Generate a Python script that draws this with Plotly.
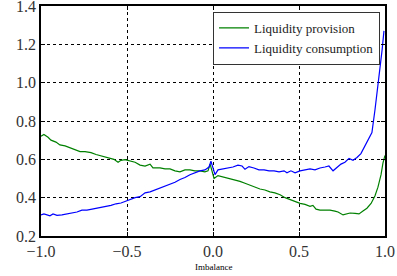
import plotly.graph_objects as go

# Liquidity provision (green)
prov_x = [-1.0, -0.983, -0.959, -0.942, -0.913, -0.89, -0.86, -0.831, -0.802, -0.773, -0.744, -0.709,
          -0.68, -0.657, -0.628, -0.599, -0.576, -0.552, -0.535, -0.512, -0.483, -0.453, -0.424, -0.395,
          -0.366, -0.349, -0.308, -0.279, -0.25, -0.221, -0.192, -0.163, -0.134, -0.105, -0.076, -0.047,
          -0.029, -0.017, -0.006, 0.006, 0.029, 0.052, 0.087, 0.128, 0.157, 0.186, 0.215, 0.244, 0.273,
          0.302, 0.331, 0.36, 0.39, 0.419, 0.448, 0.477, 0.506, 0.535, 0.564, 0.581, 0.599, 0.622, 0.651,
          0.68, 0.709, 0.727, 0.756, 0.779, 0.797, 0.826, 0.849, 0.872, 0.895, 0.919, 0.942, 0.959, 0.977,
          0.988, 1.0]
prov_y = [0.72, 0.73, 0.715, 0.70, 0.69, 0.675, 0.67, 0.66, 0.65, 0.64, 0.64, 0.635,
          0.625, 0.62, 0.615, 0.605, 0.60, 0.585, 0.595, 0.598, 0.59, 0.585, 0.57, 0.565,
          0.575, 0.555, 0.555, 0.55, 0.55, 0.54, 0.535, 0.545, 0.545, 0.54, 0.54, 0.535,
          0.54, 0.575, 0.54, 0.50, 0.515, 0.51, 0.50, 0.49, 0.485, 0.475, 0.465, 0.455, 0.445,
          0.44, 0.43, 0.425, 0.415, 0.40, 0.39, 0.38, 0.37, 0.365, 0.355, 0.36, 0.34, 0.335, 0.335,
          0.335, 0.33, 0.325, 0.31, 0.315, 0.32, 0.318, 0.315, 0.33, 0.345, 0.37, 0.41, 0.455, 0.52,
          0.58, 0.62]

# Liquidity consumption (blue)
cons_x = [-1.0, -0.983, -0.965, -0.948, -0.93, -0.907, -0.878, -0.849, -0.82, -0.791, -0.762, -0.733,
          -0.703, -0.674, -0.651, -0.622, -0.593, -0.564, -0.535, -0.512, -0.483, -0.453, -0.424, -0.395,
          -0.366, -0.337, -0.308, -0.279, -0.25, -0.221, -0.192, -0.163, -0.134, -0.105, -0.076, -0.047,
          -0.023, -0.012, 0.0, 0.012, 0.029, 0.058, 0.087, 0.116, 0.145, 0.169, 0.186, 0.209, 0.238,
          0.267, 0.297, 0.326, 0.355, 0.384, 0.413, 0.43, 0.453, 0.477, 0.506, 0.535, 0.564, 0.593,
          0.622, 0.651, 0.674, 0.698, 0.721, 0.744, 0.767, 0.791, 0.814, 0.837, 0.86, 0.884, 0.907,
          0.924, 0.942, 0.959, 0.971, 0.983, 0.994]
cons_y = [0.31, 0.315, 0.31, 0.305, 0.315, 0.308, 0.31, 0.315, 0.318, 0.325, 0.335, 0.335,
          0.34, 0.345, 0.35, 0.355, 0.36, 0.368, 0.372, 0.38, 0.39, 0.40, 0.405, 0.425,
          0.43, 0.44, 0.45, 0.46, 0.47, 0.48, 0.495, 0.505, 0.52, 0.53, 0.54, 0.545,
          0.56, 0.59, 0.56, 0.52, 0.545, 0.55, 0.555, 0.56, 0.57, 0.565, 0.548, 0.562, 0.555,
          0.545, 0.545, 0.54, 0.54, 0.535, 0.54, 0.53, 0.54, 0.53, 0.54, 0.545, 0.55, 0.545,
          0.555, 0.56, 0.565, 0.54, 0.56, 0.575, 0.585, 0.605, 0.595, 0.61, 0.63, 0.67, 0.71,
          0.74, 0.86, 0.98, 1.07, 1.17, 1.27]

x_ticks = [-1.0, -0.5, 0.0, 0.5, 1.0]
x_tick_text = ["\u22121.0", "\u22120.5", "0.0", "0.5", "1.0"]
y_ticks = [0.2, 0.4, 0.6, 0.8, 1.0, 1.2, 1.4]
y_tick_text = ["0.2", "0.4", "0.6", "0.8", "1.0", "1.2", "1.4"]

serif = "Liberation Serif, DejaVu Serif, serif"

fig = go.Figure()
fig.add_trace(go.Scatter(x=prov_x, y=prov_y, mode="lines", name="Liquidity provision",
                         line=dict(color="#008000", width=1.2)))
fig.add_trace(go.Scatter(x=cons_x, y=cons_y, mode="lines", name="Liquidity consumption",
                         line=dict(color="#0000ff", width=1.2)))

axis_common = dict(showline=True, linecolor="black", linewidth=1.5, mirror="ticks",
                   ticks="inside", ticklen=4, tickcolor="black", automargin=False,
                   ticklabeloverflow="allow",
                   showgrid=True, gridcolor="black", griddash="dot", gridwidth=1,
                   zeroline=False, tickfont=dict(family=serif, size=16, color="#333"))

fig.update_xaxes(range=[-1.0, 1.0], tickvals=x_ticks, ticktext=x_tick_text, **axis_common)
fig.update_yaxes(range=[0.2, 1.4], tickvals=y_ticks, ticktext=y_tick_text, **axis_common)

fig.add_annotation(text="Imbalance", xref="paper", yref="paper", x=0.5, y=-0.135,
                   xanchor="center", yanchor="middle", showarrow=False,
                   font=dict(family=serif, size=9, color="black"))

fig.update_layout(
    width=397, height=276,
    margin=dict(l=41, r=12, t=6, b=40),
    paper_bgcolor="white", plot_bgcolor="white",
    showlegend=True,
    legend=dict(x=0.985, y=0.975, xanchor="right", yanchor="top",
                bgcolor="white", bordercolor="#333", borderwidth=1.2,
                font=dict(family=serif, size=13, color="#222"),
                itemwidth=30, tracegroupgap=0),
)

fig.write_html("out.html", config={"displayModeBar": False},
               post_script="document.body.style.margin='0';document.body.style.overflow='hidden';")
